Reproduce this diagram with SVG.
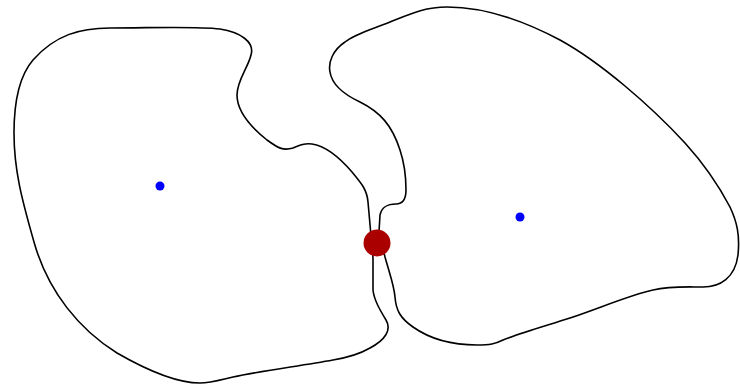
<svg xmlns="http://www.w3.org/2000/svg" width="740" height="386" viewBox="0 0 740 386">
<style>
.blob{fill:none;stroke:#000;stroke-width:1.6}
.pt{fill:#0000ff}
.jn{fill:#aa0000}
</style>
<rect width="740" height="386" fill="#fff"/>
<g id="region-left">
<path class="blob" d="M110,28 C150,28 195,26 220,29 C240,32 255,42 251,55 C248,68 237,80 237,95 C237,112 252,128 267,140 C278,148 283,151 293,148 C300,145 305,143 312,144 C325,146 340,158 352,172 C362,184 367,190 368,202 L373,258 L373,290 C374,300 380,310 386,320 C392,330 385,340 370,348 C358,355 345,358 333,360 C300,366 260,371 233,377 C220,380 210,383 200,383 C180,383 150,372 117,353 C80,330 48,292 34,242 C22,200 14,170 14,133 C14,100 20,75 33,60 C55,35 80,28 110,28 Z"/>
<circle class="pt" cx="160" cy="186" r="4.5"/>
</g>
<g id="region-right">
<path class="blob" d="M447,7 C425,7 410,14 390,22 C370,30 355,34 345,42 C333,50 328,62 330,72 C332,85 345,95 360,102 C380,112 392,125 400,150 C405,165 406,180 406,190 C406,200 402,204 396,204 C388,204 382,206 380,215 L379,232 L385,257 C390,275 394,285 395,297 C396,310 400,318 413,327 C430,339 450,345 477,345 C490,345 495,344 503,340 C520,333 545,326 570,318 C600,308 630,295 653,290 C670,286 685,287 703,287 C720,287 735,278 738,255 C740,235 737,222 730,207 C720,188 705,165 685,143 C650,105 600,62 560,40 C530,24 490,7 447,7 Z"/>
<circle class="pt" cx="520" cy="217" r="4.5"/>
</g>
<g id="junction">
<circle class="jn" cx="377" cy="243" r="13.5"/>
</g>
</svg>
